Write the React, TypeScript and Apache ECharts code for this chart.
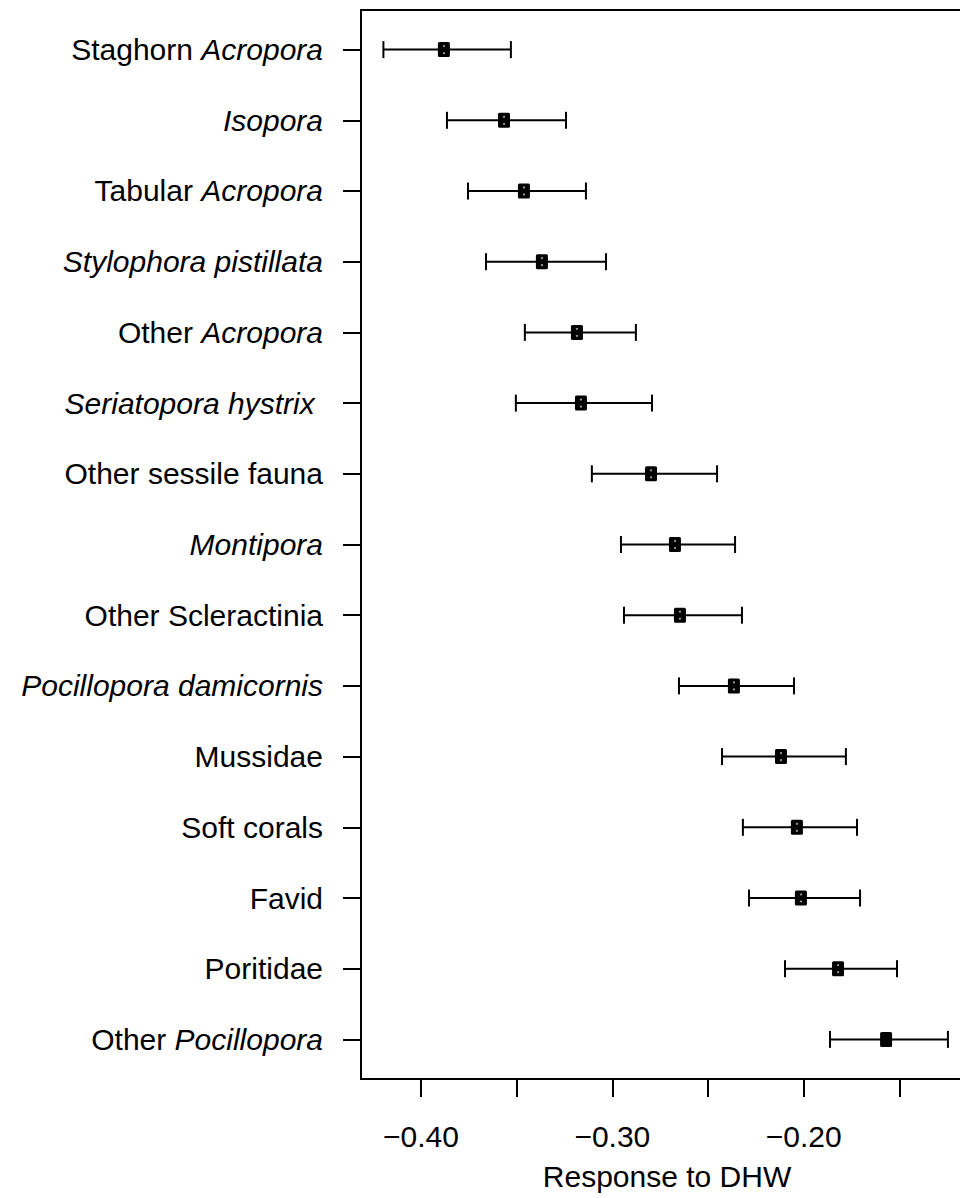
import React, { useEffect, useRef } from "react";
import * as echarts from "echarts";

const labels = [
  "Staghorn {i|Acropora}",
  "{i|Isopora}",
  "Tabular {i|Acropora}",
  "{i|Stylophora pistillata}",
  "Other {i|Acropora}",
  "{i|Seriatopora hystrix }",
  "Other sessile fauna",
  "{i|Montipora}",
  "Other Scleractinia",
  "{i|Pocillopora damicornis}",
  "Mussidae",
  "Soft corals",
  "Favid",
  "Poritidae",
  "Other {i|Pocillopora}",
];
const estimate = [
  -0.388, -0.3566, -0.3462, -0.3368, -0.3185, -0.3164, -0.2798, -0.2673,
  -0.2647, -0.2365, -0.2119, -0.2036, -0.2015, -0.1821, -0.157,
];
const lower = [
  -0.4196, -0.3864, -0.3754, -0.366, -0.3457, -0.3504, -0.3107, -0.2955,
  -0.2939, -0.2652, -0.2427, -0.2318, -0.2286, -0.2098, -0.1863,
];
const upper = [
  -0.353, -0.3242, -0.3138, -0.3033, -0.2877, -0.2793, -0.2453, -0.2359,
  -0.2323, -0.2051, -0.178, -0.1722, -0.1706, -0.1513, -0.1247,
];
const xTicks = [-0.4, -0.35, -0.3, -0.25, -0.2, -0.15];
const xTickLabels = [-0.4, -0.3, -0.2];
const rows = labels.map((_, i) => i + 1);

const FONT = "Liberation Sans, Arial, sans-serif";
const FS = 30;

export default function App() {
  const ref = useRef<HTMLDivElement>(null);
  useEffect(() => {
    if (!ref.current) return;
    const chart = echarts.init(ref.current, null, { renderer: "svg" });
    const data = rows.map((r, i) => [estimate[i], r, lower[i], upper[i]]);
    chart.setOption({
      animation: false,
      backgroundColor: "#ffffff",
      grid: {
        left: 361,
        top: 10,
        width: 612,
        height: 1069,
        show: true,
        borderColor: "#000",
        borderWidth: 2,
        backgroundColor: "transparent",
        containLabel: false,
        outerBoundsMode: "none",
      },
      xAxis: {
        type: "value",
        min: -0.4313,
        max: -0.1116,
        axisLine: { show: false },
        splitLine: { show: false },
        axisTick: {
          show: true,
          customValues: xTicks,
          length: 18,
          lineStyle: { color: "#000", width: 2 },
        },
        axisLabel: {
          customValues: xTickLabels,
          formatter: (v: number) => "\u2212" + Math.abs(v).toFixed(2),
          fontSize: FS,
          fontFamily: FONT,
          color: "#000",
          margin: 42,
        },
        name: "Response to DHW",
        nameLocation: "middle",
        nameGap: 82,
        nameTextStyle: { fontSize: FS, fontFamily: FONT, color: "#000" },
      },
      yAxis: {
        type: "value",
        inverse: true,
        min: 0.44,
        max: 15.56,
        axisLine: { show: false },
        splitLine: { show: false },
        axisTick: {
          show: true,
          customValues: rows,
          length: 18,
          lineStyle: { color: "#000", width: 2 },
        },
        axisLabel: {
          customValues: rows,
          formatter: (v: number) => labels[Math.round(v) - 1] || "",
          fontSize: FS,
          fontFamily: FONT,
          color: "#000",
          margin: 38,
          rich: {
            i: {
              fontStyle: "italic",
              fontSize: FS,
              fontFamily: FONT,
              color: "#000",
            },
          },
        },
      },
      series: [
        {
          type: "custom",
          data,
          encode: { x: 0, y: 1 },
          renderItem: (params: any, api: any) => {
            const row = api.value(1);
            const p = api.coord([api.value(0), row]);
            const l = api.coord([api.value(2), row]);
            const h = api.coord([api.value(3), row]);
            const ls = { stroke: "#000", lineWidth: 2 };
            return {
              type: "group",
              children: [
                { type: "line", shape: { x1: l[0], y1: l[1], x2: h[0], y2: h[1] }, style: ls },
                { type: "line", shape: { x1: l[0], y1: l[1] - 8.5, x2: l[0], y2: l[1] + 8.5 }, style: ls },
                { type: "line", shape: { x1: h[0], y1: h[1] - 8.5, x2: h[0], y2: h[1] + 8.5 }, style: ls },
                {
                  type: "rect",
                  shape: { x: p[0] - 6, y: p[1] - 7.5, width: 12, height: 15, r: 1.5 },
                  style: { fill: "#000" },
                },
                { type: "circle", shape: { cx: p[0], cy: p[1] - 3.5, r: 1 }, style: { fill: "#aaa" } },
                { type: "circle", shape: { cx: p[0], cy: p[1] + 3.5, r: 1 }, style: { fill: "#aaa" } },
              ],
            };
          },
        },
      ],
    });
    return () => chart.dispose();
  }, []);
  return (
    <div
      ref={ref}
      style={{ position: "absolute", left: 0, top: 0, width: 960, height: 1198 }}
    />
  );
}
